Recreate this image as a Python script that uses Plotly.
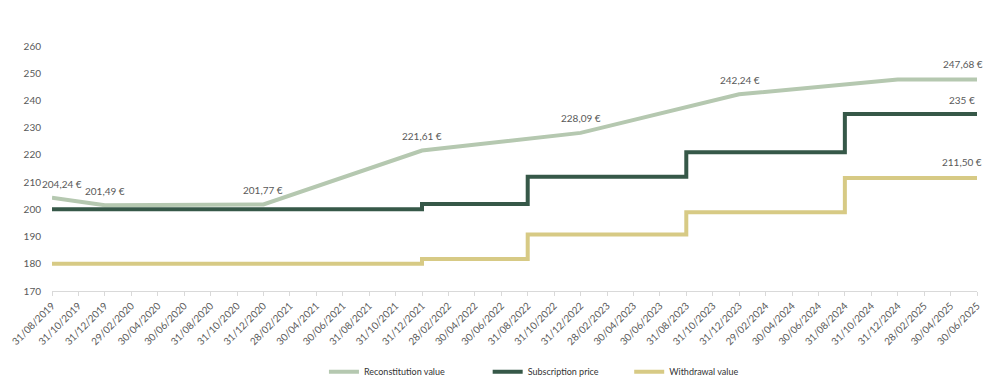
import plotly.graph_objects as go

dates = ["31/08/2019", "31/10/2019", "31/12/2019", "29/02/2020", "30/04/2020", "30/06/2020",
         "31/08/2020", "31/10/2020", "31/12/2020", "28/02/2021", "30/04/2021", "30/06/2021",
         "31/08/2021", "31/10/2021", "31/12/2021", "28/02/2022", "30/04/2022", "30/06/2022",
         "31/08/2022", "31/10/2022", "31/12/2022", "28/02/2023", "30/04/2023", "30/06/2023",
         "31/08/2023", "31/10/2023", "31/12/2023", "29/02/2024", "30/04/2024", "30/06/2024",
         "31/08/2024", "31/10/2024", "31/12/2024", "28/02/2025", "30/04/2025", "30/06/2025"]

N = None
reconstitution = [204.24, N, 201.49, N, N, N, N, N, 201.77, N, N, N, N, N, 221.61, N, N, N,
                  N, N, 228.09, N, N, N, N, N, 242.24, N, N, N, N, N, 247.68, N, N, 247.68]
subscription = [200] * 14 + [202] * 4 + [212] * 6 + [221] * 6 + [235] * 6
withdrawal = [180] * 14 + [181.8] * 4 + [190.8] * 6 + [198.9] * 6 + [211.5] * 6

# label: (index, value, text, xshift, yshift)
labels = [
    (0, 204.24, "204,24 €", 10, 14),
    (2, 201.49, "201,49 €", 0, 14),
    (8, 201.77, "201,77 €", 0, 15),
    (14, 221.61, "221,61 €", 0, 15),
    (20, 228.09, "228,09 €", 0, 15),
    (26, 242.24, "242,24 €", 1, 14),
    (35, 247.68, "247,68 €", -14, 16),
    (35, 235, "235 €", -15, 14),
    (35, 211.5, "211,50 €", -15, 16),
]

C_REC = "#b5c8b0"
C_SUB = "#365848"
C_WD = "#d7ca85"
FONT = "Lato"
GREY = "#595959"

fig = go.Figure()
fig.add_trace(go.Scatter(x=dates, y=reconstitution, mode="lines", name="Reconstitution value",
                         connectgaps=True, line=dict(color=C_REC, width=4), legend="legend"))
fig.add_trace(go.Scatter(x=dates, y=subscription, mode="lines", name="Subscription price",
                         line=dict(color=C_SUB, width=4, shape="hv"), legend="legend2"))
fig.add_trace(go.Scatter(x=dates, y=withdrawal, mode="lines", name="Withdrawal value",
                         line=dict(color=C_WD, width=4, shape="hv"), legend="legend3"))

for i, v, t, xs, ys in labels:
    fig.add_annotation(x=dates[i], y=v, text=t, showarrow=False, xshift=xs, yshift=ys,
                       font=dict(family=FONT, size=10, color=GREY))

leg_common = dict(orientation="h", xanchor="left", yref="container", y=0.024, yanchor="middle",
                  font=dict(family=FONT, size=9, color="#333333"), itemwidth=30,
                  bgcolor="rgba(0,0,0,0)")

fig.update_layout(
    width=1000, height=381,
    margin=dict(l=52, r=23, t=46, b=90),
    paper_bgcolor="white", plot_bgcolor="white",
    font=dict(family=FONT, size=10, color=GREY),
    showlegend=True,
    legend=dict(x=0.294, **leg_common),
    legend2=dict(x=0.471, **leg_common),
    legend3=dict(x=0.624, **leg_common),
    xaxis=dict(type="category", range=[0, 35], tickangle=-45, showgrid=False, automargin=False,
               showline=True, linecolor="#d9d9d9", linewidth=1,
               ticks="outside", ticklen=4, tickcolor="#d9d9d9",
               tickfont=dict(family=FONT, size=10, color=GREY)),
    yaxis=dict(range=[170, 260], dtick=10, showgrid=False, zeroline=False, showline=False,
               automargin=False,
               tickfont=dict(family=FONT, size=10, color=GREY), ticklabelstandoff=10),
)

fig.write_html("out.html", config={"displayModeBar": False},
               post_script="document.body.style.margin='0';document.body.style.overflow='hidden';")
